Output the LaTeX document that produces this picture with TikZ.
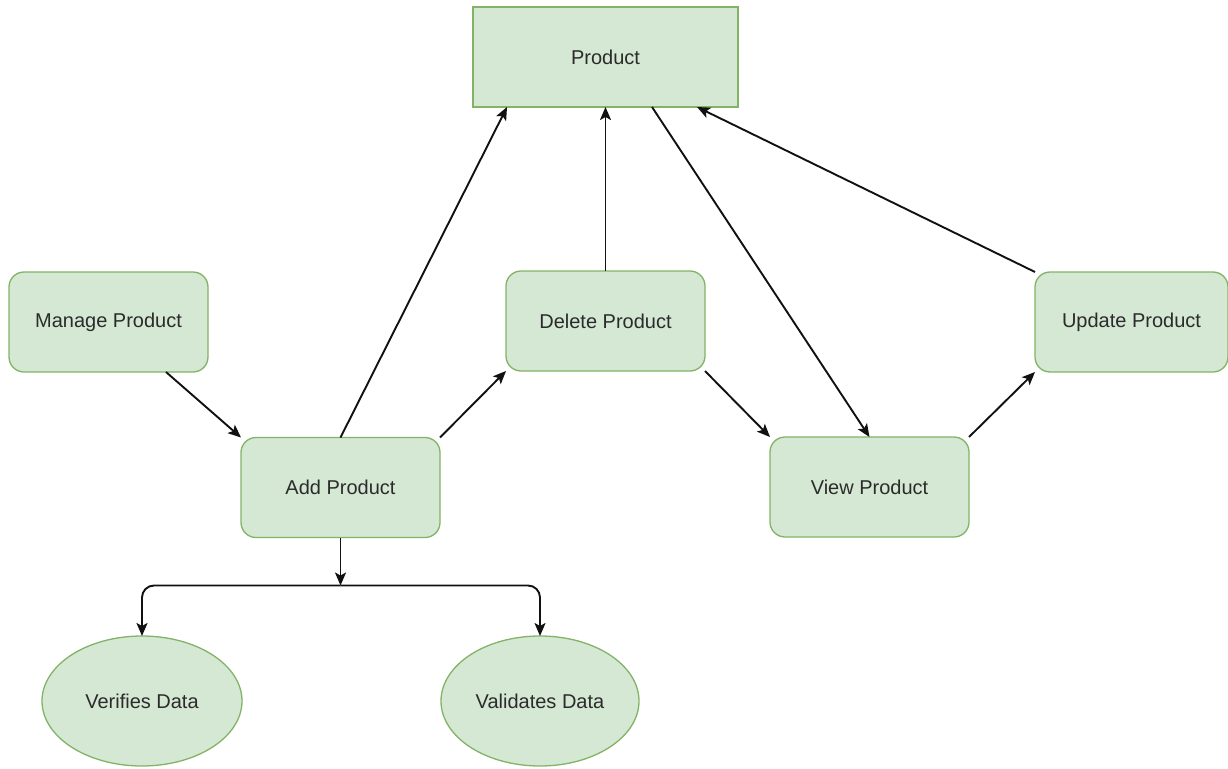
\documentclass[tikz,border=0pt]{standalone}
\usepackage{fontspec}
\setmainfont{Liberation Sans}
\usetikzlibrary{arrows.meta,shapes.geometric,calc}
\definecolor{boxfill}{HTML}{D5E8D4}
\definecolor{boxline}{HTML}{82B366}
\definecolor{txt}{HTML}{2B2B2B}
\definecolor{wire}{HTML}{111111}
\begin{document}
\begin{tikzpicture}[x=1pt,y=-1pt,
  every node/.style={font=\fontsize{20}{24}\selectfont, text=txt},
  rbox/.style={draw=boxline, fill=boxfill, line width=1.3pt, rounded corners=15pt, minimum width=199pt, minimum height=100pt, inner sep=0pt, outer sep=0pt},
  pbox/.style={draw=boxline, fill=boxfill, line width=1.3pt, minimum width=265pt, minimum height=100pt, inner sep=0pt, outer sep=0pt},
  ebox/.style={ellipse, draw=boxline, fill=boxfill, line width=1.3pt, minimum width=200pt, minimum height=130pt, inner sep=0pt, outer sep=0pt},
  conn/.style={draw=wire, line width=1.9pt, -{Stealth[length=13pt,width=11pt,inset=3pt]}},
  plain/.style={draw=wire, line width=1.9pt}
]
\useasboundingbox (0,0) rectangle (1228,768);
\node[pbox] (product) at (605.5,57) {Product};
\node[rbox] (manage) at (108.5,322) {Manage Product};
\node[rbox] (add) at (340.5,487.5) {Add Product};
\node[rbox] (delete) at (605.5,321) {Delete Product};
\node[rbox] (view) at (869.5,487) {View Product};
\node[rbox, minimum width=193pt] (update) at (1131.5,322) {Update Product};
\node[ebox] (verifies) at (142,701) {Verifies Data};
\node[ebox, minimum width=198pt] (validates) at (540,701) {Validates Data};
\coordinate (split) at ($(add.south)+(0,48)$);

\draw[conn] ([xshift=-42pt]manage.south east) -- (add.north west);
\draw[conn] (add.north) -- ([xshift=34pt]product.south west);
\draw[conn] (add.north east) -- (delete.south west);
\draw[conn] (delete.north) -- (delete.north |- product.south);
\draw[conn] ([xshift=46.5pt]product.south) -- (view.north);
\draw[conn] (delete.south east) -- (view.north west);
\draw[conn] (view.north east) -- (update.south west);
\draw[conn] (update.north west) -- ([xshift=-41pt]product.south east);
\draw[conn] (add.south) -- (split);
\draw[conn, rounded corners=12pt] (split) -| (verifies.north);
\draw[conn, rounded corners=12pt] (split) -| (validates.north);
\end{tikzpicture}
\end{document}
